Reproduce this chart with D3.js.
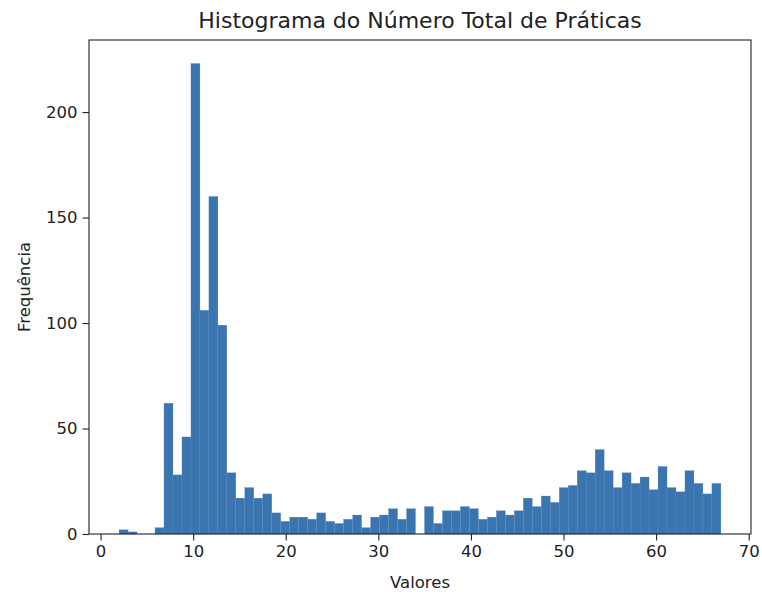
<!DOCTYPE html>
<html lang="pt">
<head>
  <meta charset="UTF-8">
  <title>Histograma do Número Total de Práticas</title>
  <script src="https://cdn.jsdelivr.net/npm/d3@7/dist/d3.min.js"></script>
  <style>
    body { margin: 0; background: #fff; }
    text { font-family: "DejaVu Sans", sans-serif; fill: #222; }
  </style>
</head>
<body>
<div id="grafica"></div>

<script>
// histograma: 67 classes de 2 a 67
binInicio = 2
binFim = 67
frequencias = [2, 1, 0, 0, 3, 62, 28, 46, 223, 106,
               160, 99, 29, 17, 22, 17, 19, 10, 6, 8,
               8, 7, 10, 6, 5, 7, 9, 3, 8, 9,
               12, 7, 12, 0, 13, 5, 11, 11, 13, 12,
               7, 8, 11, 9, 11, 17, 13, 18, 15, 22,
               23, 30, 29, 40, 30, 22, 29, 24, 27, 21,
               32, 22, 20, 30, 24, 19, 24]
xTicks = [0, 10, 20, 30, 40, 50, 60, 70]
yTicks = [0, 50, 100, 150, 200]

titulo = 'Histograma do Número Total de Práticas'
rotuloX = 'Valores'
rotuloY = 'Frequência'

ancho_total = 762
alto_total = 592
margin = {left: 89, right: 11, top: 40, bottom: 58}
ancho = ancho_total - margin.left - margin.right
alto = alto_total - margin.top - margin.bottom

largura = (binFim - binInicio) / frequencias.length
bins = frequencias.map((f, i) => ({
  x0: binInicio + i * largura,
  x1: binInicio + (i + 1) * largura,
  n: f
}))

svg = d3.select('#grafica')
  .append('svg')
  .attr('width', ancho_total)
  .attr('height', alto_total)

g = svg.append('g')
  .attr('transform', `translate(${margin.left}, ${margin.top})`)

// margens de 5% como no matplotlib
pad = (binFim - binInicio) * 0.05
x = d3.scaleLinear()
  .domain([binInicio - pad, binFim + pad])
  .range([0, ancho])

y = d3.scaleLinear()
  .domain([0, d3.max(frequencias) * 1.05])
  .range([alto, 0])

g.selectAll('rect')
  .data(bins.filter(d => d.n > 0))
  .enter()
  .append('rect')
    .attr('x', d => x(d.x0))
    .attr('y', d => y(d.n))
    .attr('width', d => x(d.x1) - x(d.x0))
    .attr('height', d => alto - y(d.n))
    .attr('fill', '#3a75af')
    .attr('stroke', '#5d8dc0')
    .attr('stroke-width', 0.3)

xAxis = g.append('g')
  .attr('transform', `translate(0, ${alto})`)
  .call(d3.axisBottom(x).tickValues(xTicks).tickSize(6.5).tickPadding(5))
yAxis = g.append('g')
  .call(d3.axisLeft(y).tickValues(yTicks).tickSize(6.5).tickPadding(5))

;[xAxis, yAxis].forEach(a => {
  a.select('.domain').remove()
  a.selectAll('line').attr('stroke', '#222').attr('stroke-width', 1.1)
  a.selectAll('text').style('font-size', '16.5px').attr('fill', '#222')
})

// moldura
g.append('rect')
  .attr('width', ancho)
  .attr('height', alto)
  .attr('fill', 'none')
  .attr('stroke', '#222')
  .attr('stroke-width', 1.1)

svg.append('text')
  .attr('x', margin.left + ancho / 2)
  .attr('y', 28)
  .attr('text-anchor', 'middle')
  .style('font-size', '22px')
  .text(titulo)

svg.append('text')
  .attr('x', margin.left + ancho / 2)
  .attr('y', 588)
  .attr('text-anchor', 'middle')
  .style('font-size', '16.5px')
  .text(rotuloX)

svg.append('text')
  .attr('transform', `translate(30, ${margin.top + alto / 2}) rotate(-90)`)
  .attr('text-anchor', 'middle')
  .style('font-size', '16.5px')
  .text(rotuloY)
</script>
</body>
</html>
